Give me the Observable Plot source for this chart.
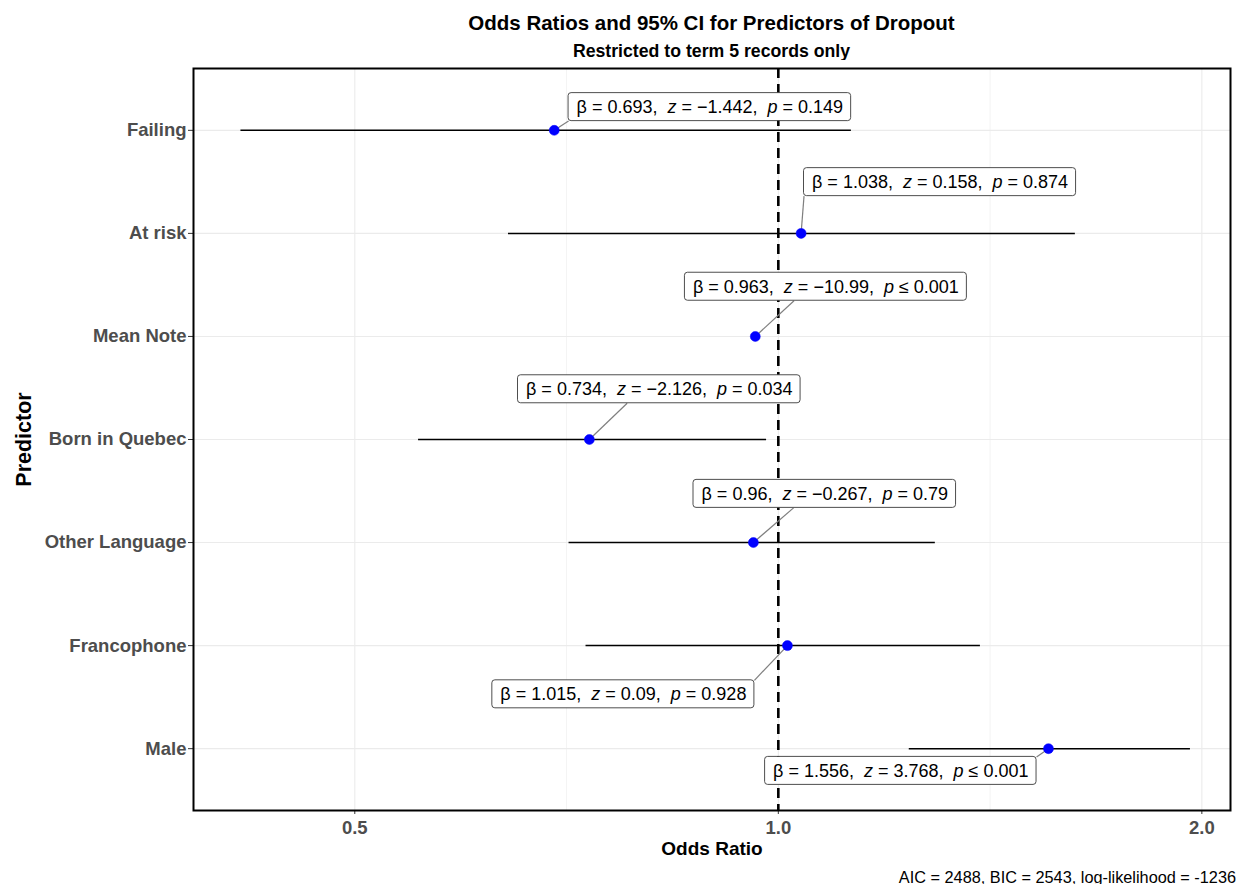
<!DOCTYPE html>
<html>
<head>
<meta charset="utf-8">
<script src="https://cdn.jsdelivr.net/npm/d3@7"></script>
<script src="https://cdn.jsdelivr.net/npm/@observablehq/plot@0.6"></script>
<style>
  html, body { margin: 0; padding: 0; background: #fff; }
  body { width: 1238px; height: 884px; position: relative; overflow: hidden; font-family: "Liberation Sans", Arial, sans-serif; }
  .title { position: absolute; left: 193px; width: 1037px; text-align: center; font-weight: bold; color: #000; white-space: nowrap; }
  #t1 { top: 10.5px; font-size: 20.5px; line-height: 24px; }
  #t2 { top: 40.5px; font-size: 17.7px; line-height: 20px; }
  #chart { position: absolute; left: 0; top: 60px; }
  #caption { position: absolute; right: 2px; top: 867px; font-size: 16.3px; line-height: 20px; color: #000; white-space: nowrap; }
</style>
</head>
<body>
<div class="title" id="t1">Odds Ratios and 95% CI for Predictors of Dropout</div>
<div class="title" id="t2">Restricted to term 5 records only</div>
<div id="chart"></div>
<div id="caption">AIC = 2488, BIC = 2543, log-likelihood = -1236</div>
<script>
// Logistic model summary: one row per predictor, top to bottom
const predictors = ["Failing", "At risk", "Mean Note", "Born in Quebec", "Other Language", "Francophone", "Male"];
const oddsRatio  = [0.693, 1.038, 0.963, 0.734, 0.96, 1.015, 1.556];
const ciLow      = [0.415, 0.643, 0.957, 0.555, 0.710, 0.730, 1.239];
const ciHigh     = [1.127, 1.626, 0.969, 0.981, 1.293, 1.392, 1.963];
const zValue     = ["−1.442", "0.158", "−10.99", "−2.126", "−0.267", "0.09", "3.768"];
const pValue     = ["= 0.149", "= 0.874", "≤ 0.001", "= 0.034", "= 0.79", "= 0.928", "≤ 0.001"];
// Where each repelled annotation sits: odds-ratio position and shift in rows (+ = above)
const labelOR    = [0.894, 1.303, 1.081, 0.823, 1.079, 0.776, 1.222];
const labelShift = [0.223, 0.495, 0.48, 0.485, 0.47, -0.475, -0.218];
const xTicks     = [0.5, 1, 2];
const xMinor     = [Math.SQRT1_2, Math.SQRT2];

const n = predictors.length;
const rows = predictors.map((name, i) => ({
  name,
  row: n - i,
  or: oddsRatio[i],
  lo: ciLow[i],
  hi: ciHigh[i],
  lx: labelOR[i],
  ly: n - i + labelShift[i]
}));

function makeChart(leaders) {
  return Plot.plot({
    width: 1238,
    height: 800,
    marginLeft: 193,
    marginRight: 8,
    marginTop: 8,
    marginBottom: 50,
    style: { background: "white", fontFamily: "'Liberation Sans', Arial, sans-serif", overflow: "visible" },
    x: { type: "log", domain: [0.384, 2.096] },
    y: { domain: [0.4, n + 0.6] },
    marks: [
      // panel grid
      Plot.ruleX(xMinor, { stroke: "#ebebeb", strokeWidth: 0.6 }),
      Plot.ruleX(xTicks, { stroke: "#ebebeb", strokeWidth: 1.1 }),
      Plot.ruleY(rows, { y: "row", stroke: "#ebebeb", strokeWidth: 1.1 }),
      // axes
      Plot.axisX({
        ticks: xTicks, tickFormat: d => d.toFixed(1), label: null,
        tickSize: 4, tickPadding: 6, fontSize: 18.5, fontWeight: "bold",
        fill: "#4d4d4d", stroke: "#333"
      }),
      Plot.axisY({
        ticks: rows.map(d => d.row), tickFormat: r => predictors[n - r], label: null,
        tickSize: 5, tickPadding: 2, fontSize: 18.5, fontWeight: "bold",
        fill: "#4d4d4d", stroke: "#333"
      }),
      Plot.text(["Odds Ratio"], { frameAnchor: "bottom", dy: 44, fontSize: 19, fontWeight: "bold", fill: "#000" }),
      Plot.text(["Predictor"], { frameAnchor: "left", textAnchor: "middle", dx: -169, rotate: -90, fontSize: 21.5, fontWeight: "bold", fill: "#000" }),
      // confidence intervals and reference line
      Plot.ruleY(rows, { y: "row", x1: "lo", x2: "hi", stroke: "#000", strokeWidth: 1.5 }),
      Plot.ruleX([1], { stroke: "#000", strokeWidth: 2.6, strokeDasharray: "10,6" }),
      // leader lines from estimate to the edge of its annotation box
      leaders ? Plot.link(leaders, { x1: "x1", y1: "y1", x2: "x2", y2: "y2", stroke: "#7f7f7f", strokeWidth: 1.2 }) : null,
      Plot.dot(rows, { x: "or", y: "row", r: 5, fill: "#0000ff", stroke: "#0000ff", strokeWidth: 0.5 }),
      Plot.text(rows, { x: "lx", y: "ly", text: "name", fontSize: 18, fill: "#000" }),
      Plot.frame({ stroke: "#000", strokeWidth: 2 })
    ]
  });
}

// Rich annotation text (italic z and p) with rounded boxes behind it;
// returns each box's extent in SVG pixels
const svgNS = "http://www.w3.org/2000/svg";
function decorate(chart) {
  const labelGroup = Array.from(chart.querySelectorAll('g[aria-label="text"]'))
    .find(g => g.querySelectorAll("text").length === n);
  const boxGroup = document.createElementNS(svgNS, "g");
  boxGroup.setAttribute("fill", "#fff");
  boxGroup.setAttribute("stroke", "#3a3a3a");
  boxGroup.setAttribute("stroke-width", "0.9");
  labelGroup.parentNode.insertBefore(boxGroup, labelGroup);
  const origin = chart.getBoundingClientRect();
  const boxes = [];
  labelGroup.querySelectorAll("text").forEach((t, i) => {
    t.textContent = "";
    t.style.whiteSpace = "pre";
    const parts = [
      ["β = " + oddsRatio[i] + ",  ", false],
      ["z", true],
      [" = " + zValue[i] + ",  ", false],
      ["p", true],
      [" " + pValue[i], false]
    ];
    for (const [s, italic] of parts) {
      const ts = document.createElementNS(svgNS, "tspan");
      ts.textContent = s;
      if (italic) ts.setAttribute("font-style", "italic");
      t.appendChild(ts);
    }
    const bb = t.getBBox();
    const r = document.createElementNS(svgNS, "rect");
    r.setAttribute("x", bb.x - 8);
    r.setAttribute("y", bb.y - 4);
    r.setAttribute("width", bb.width + 16);
    r.setAttribute("height", bb.height + 8);
    r.setAttribute("rx", 3);
    const tr = t.getAttribute("transform");
    if (tr) r.setAttribute("transform", tr);
    boxGroup.appendChild(r);
    const rb = r.getBoundingClientRect();
    boxes.push({ left: rb.left - origin.left, right: rb.right - origin.left, top: rb.top - origin.top, bottom: rb.bottom - origin.top });
  });
  return boxes;
}

// Segment end on the box: nearest edge point, pulled toward the edge's middle
function connect(px, py, b) {
  let ox = px, oy = py, horiz = false, vert = false;
  if (px < b.left) { ox = b.left; horiz = true; } else if (px > b.right) { ox = b.right; horiz = true; }
  if (py < b.top) { oy = b.top; vert = true; } else if (py > b.bottom) { oy = b.bottom; vert = true; }
  const mx = (b.left + b.right) / 2, my = (b.top + b.bottom) / 2;
  const d = Math.hypot(px - ox, py - oy);
  if (vert && !horiz) {
    const alt = Math.hypot(px - mx, py - oy);
    ox += (mx - ox) * (1 - d / alt);
  } else if (horiz && !vert) {
    const alt = Math.hypot(px - ox, py - my);
    oy += (my - oy) * (1 - d / alt);
  }
  return [ox, oy];
}

const host = document.getElementById("chart");
let chart = makeChart(null);
host.append(chart);
const boxes = decorate(chart);
const xs = chart.scale("x"), ys = chart.scale("y");
const xScale = d3.scaleLog().domain(xs.domain).range(xs.range);
const yScale = d3.scaleLinear().domain(ys.domain).range(ys.range);
const leaders = rows.map((d, i) => {
  const [ex, ey] = connect(xScale(d.or), yScale(d.row), boxes[i]);
  return { x1: d.or, y1: d.row, x2: xScale.invert(ex), y2: yScale.invert(ey) };
});
chart.remove();
chart = makeChart(leaders);
host.append(chart);
decorate(chart);
</script>
</body>
</html>
